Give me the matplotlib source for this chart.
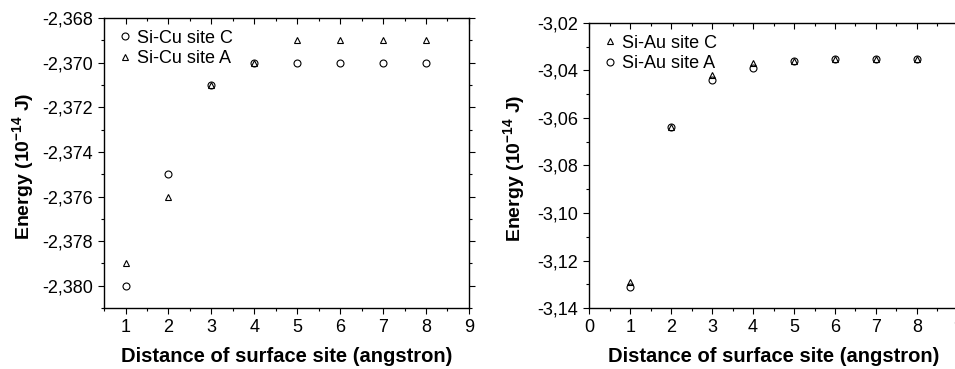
import matplotlib
matplotlib.use("Agg")
import matplotlib.pyplot as plt
from matplotlib.ticker import FuncFormatter, MultipleLocator

plt.rcParams['font.family'] = ['Liberation Sans', 'DejaVu Sans']
plt.rcParams['mathtext.fontset'] = 'custom'
plt.rcParams['mathtext.rm'] = 'Liberation Sans:bold'
plt.rcParams['mathtext.bf'] = 'Liberation Sans:bold'

x = [1, 2, 3, 4, 5, 6, 7, 8]
cu_site_c = [-2.380, -2.375, -2.371, -2.370, -2.370, -2.370, -2.370, -2.370]
cu_site_a = [-2.379, -2.376, -2.371, -2.370, -2.369, -2.369, -2.369, -2.369]
au_site_c = [-3.129, -3.064, -3.042, -3.037, -3.036, -3.035, -3.035, -3.035]
au_site_a = [-3.131, -3.064, -3.044, -3.039, -3.036, -3.035, -3.035, -3.035]

fig = plt.figure(figsize=(9.55, 3.69), dpi=100)
ax1 = fig.add_axes([0.109, 0.165, 0.382, 0.786])
ax2 = fig.add_axes([0.617, 0.165, 0.386, 0.773])

mk = dict(linestyle='none', markerfacecolor='none', markeredgecolor='black',
          markeredgewidth=0.8, markersize=5)

ax1.plot(x, cu_site_c, marker='o', label='Si-Cu site C', **mk)
ax1.plot(x, cu_site_a, marker='^', label='Si-Cu site A', **mk)
ax1.set_xlim(0.5, 9)
ax1.set_ylim(-2.381, -2.368)
ax1.yaxis.set_major_locator(MultipleLocator(0.002))
ax1.yaxis.set_minor_locator(MultipleLocator(0.001))
ax1.yaxis.set_major_formatter(FuncFormatter(lambda v, p: f"{v:.3f}".replace('.', ',')))

ax2.plot(x, au_site_c, marker='^', label='Si-Au site C', **mk)
ax2.plot(x, au_site_a, marker='o', label='Si-Au site A', **mk)
ax2.set_xlim(0, 9)
ax2.set_ylim(-3.14, -3.02)
ax2.yaxis.set_major_locator(MultipleLocator(0.02))
ax2.yaxis.set_minor_locator(MultipleLocator(0.01))
ax2.yaxis.set_major_formatter(FuncFormatter(lambda v, p: f"{v:.2f}".replace('.', ',')))

for ax in (ax1, ax2):
    ax.xaxis.set_major_locator(MultipleLocator(1))
    ax.xaxis.set_minor_locator(MultipleLocator(0.5))
    ax.tick_params(which='both', direction='out', top=True, right=True, labelsize=13, pad=4)
    ax.tick_params(which='major', length=4, width=0.8)
    ax.tick_params(which='minor', length=2.5, width=0.8)
    for s in ax.spines.values():
        s.set_linewidth(1.0)
    ax.set_xlabel('Distance of surface site (angstron)', fontsize=14.5, fontweight='bold', labelpad=8)
    ax.set_ylabel('Energy (10$^{\\mathrm{-14}}$ J)', fontsize=14, fontweight='bold')
    ax.yaxis.set_label_coords(-0.185 if ax is ax1 else -0.165, 0.49)
    ax.legend(loc='upper left', frameon=False, fontsize=13, handletextpad=0.15,
              borderaxespad=0.25, labelspacing=0.2, handlelength=1.0)
    for t in ax.xaxis.get_major_ticks() + ax.xaxis.get_minor_ticks():
        t.tick2line.set_marker(3)
    for t in ax.yaxis.get_major_ticks() + ax.yaxis.get_minor_ticks():
        t.tick2line.set_marker(1)

fig.savefig('out.png', dpi=100)
